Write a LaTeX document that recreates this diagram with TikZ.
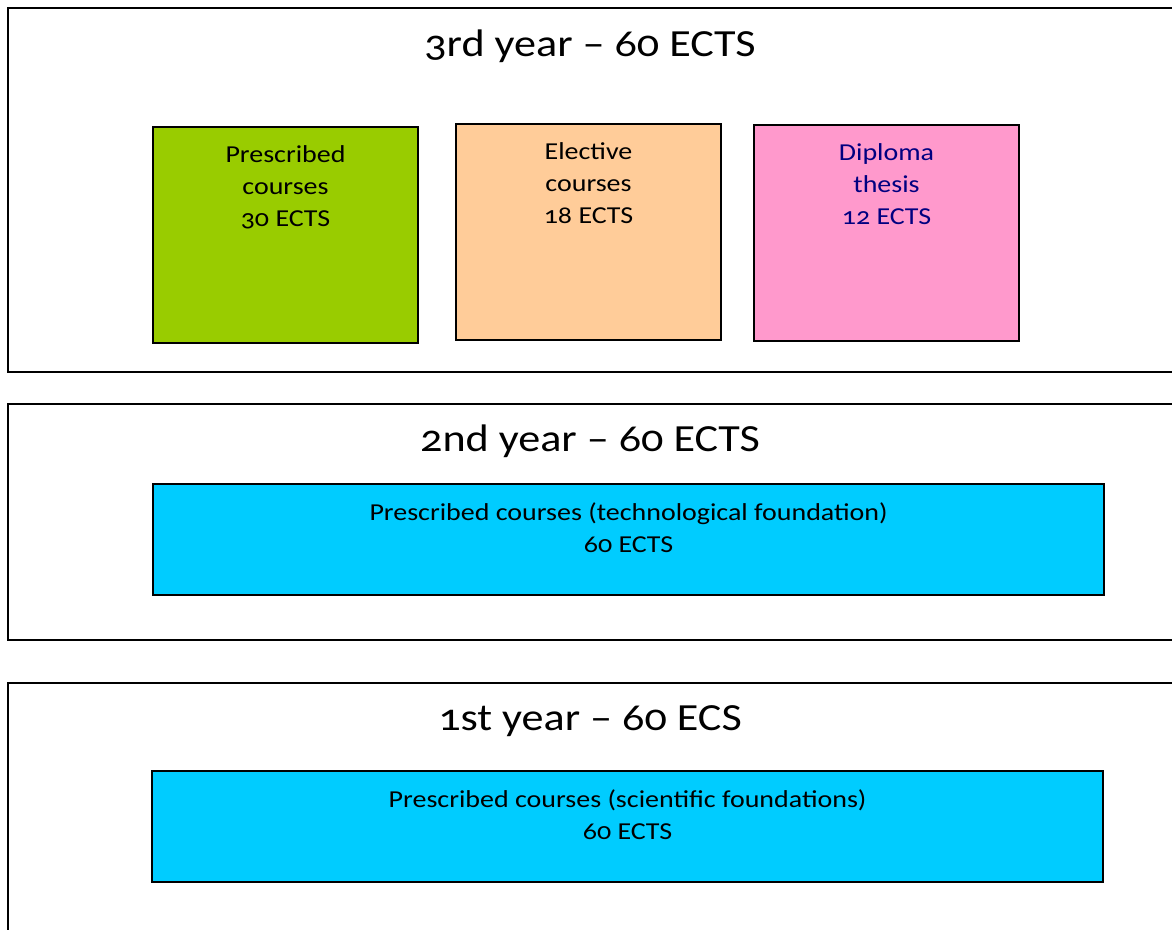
\documentclass[tikz,border=0pt]{standalone}
\usepackage{fontspec}
\setmainfont{Carlito}[Numbers=OldStyle, FakeStretch=1.15]
\usetikzlibrary{positioning}

\definecolor{grassgreen}{HTML}{99CC00}
\definecolor{peach}{HTML}{FFCC99}
\definecolor{rosepink}{HTML}{FF99CC}
\definecolor{skyblue}{HTML}{00CCFF}
\definecolor{navytext}{HTML}{000080}

\begin{document}
\begin{tikzpicture}[x=0.025cm, y=-0.025cm,
    yearbox/.style={draw, line width=1.4pt, rectangle, anchor=north west, minimum width=29.6cm},
    coursebox/.style={draw, line width=1.4pt, rectangle, anchor=north west, minimum width=6.625cm, minimum height=5.4cm},
    widebox/.style={draw, line width=1.4pt, rectangle, fill=skyblue, anchor=north west, minimum width=23.775cm, minimum height=2.775cm},
    yeartitle/.style={font=\fontsize{27.3}{32}\selectfont, inner sep=0pt},
    boxtext/.style={font=\fontsize{17.3}{22.75}\selectfont, align=center, inner sep=0pt, anchor=north}]
    \clip (0,0) rectangle (1172,929);
    \useasboundingbox (0,0) rectangle (1172,929);

    % year frames
    \node[yearbox, minimum height=9.1cm] (y3) at (7,7) {};
    \node[yearbox, minimum height=5.9cm] (y2) at (7,403) {};
    \node[yearbox, minimum height=7cm] (y1) at (7,682) {};

    \node[yeartitle] (t3) at (590,46) {3rd year -- 60 ECTS};
    \node[yeartitle] (t2) at (590,441) {2nd year -- 60 ECTS};
    \node[yeartitle] (t1) at (590,721) {1st year -- 60 ECS};

    % third year
    \node[coursebox, fill=grassgreen] (pres3) at (152,126) {};
    \node[coursebox, fill=peach] (elec3) at (455,123) {};
    \node[coursebox, fill=rosepink] (thes3) at (753,124) {};

    \node[boxtext, below=0.48cm of pres3.north] (pres3txt) {Prescribed\\courses\\30 ECTS};
    \node[boxtext, below=0.48cm of elec3.north] (elec3txt) {Elective\\courses\\18 ECTS};
    \node[boxtext, below=0.48cm of thes3.north, text=navytext] (thes3txt) {Diploma\\thesis\\12 ECTS};

    % second and first year
    \node[widebox] (tech2) at (152,483) {};
    \node[widebox] (sci1) at (151,770) {};

    \node[boxtext, below=0.48cm of tech2.north] (tech2txt) {Prescribed courses (technological foundation)\\60 ECTS};
    \node[boxtext, below=0.48cm of sci1.north] (sci1txt) {Prescribed courses (scientific foundations)\\60 ECTS};
\end{tikzpicture}
\end{document}
